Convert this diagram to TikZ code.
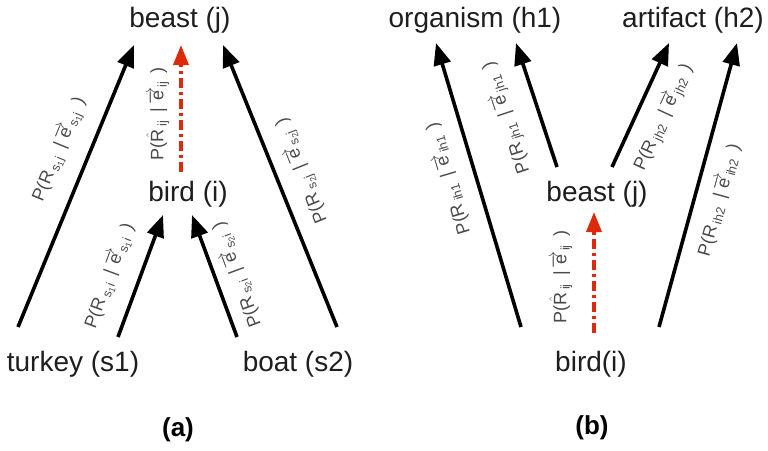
\documentclass[tikz,border=0pt]{standalone}
\usepackage{fontspec}
\setmainfont{Liberation Sans}
\usepackage{tikz}
\usetikzlibrary{arrows.meta}
\definecolor{GuessRed}{HTML}{DD2A0A}
\definecolor{LabelGray}{HTML}{4A4A4A}
\definecolor{WordBlack}{HTML}{1E1E1E}
\newcommand{\vecE}{$\overrightarrow{\mbox{e}}$}
\newcommand{\condP}[1]{P(R\,\textsubscript{#1}\ \,|\,\vecE\textsubscript{#1}\ \,)}
\newcommand{\condPhat}[1]{P($\hat{\mbox{R}}$\,\textsubscript{#1}\ \,|\,\vecE\textsubscript{#1}\ \,)}
\tikzset{
    % Node styles
    word/.style={
        anchor=base,
        inner sep=0pt,
        text=WordBlack,
        font=\fontsize{28}{30}\selectfont
    },
    panelcap/.style={
        anchor=base,
        inner sep=0pt,
        font=\fontsize{26}{28}\selectfont\bfseries
    },
    problabel/.style={
        sloped,
        allow upside down,
        inner sep=0pt,
        text=LabelGray,
        font=\fontsize{18}{20}\selectfont
    },
    % Arrow styles
    relarrow/.style={
        -{Triangle[length=22pt,width=17pt]},
        line width=3.6pt,
        black
    },
    guessarrow/.style={
        -{Triangle[length=20pt,width=15pt]},
        line width=3.6pt,
        GuessRed,
        dash pattern=on 10pt off 4pt on 3pt off 4pt
    }
}
\begin{document}
\begin{tikzpicture}[x=1pt,y=-1pt]
    \useasboundingbox (0,0) rectangle (768,450);

    % Panel (a): words
    \node[word] (beastA) at (180,27) {beast (j)};
    \node[word] (birdA) at (188,201) {bird (i)};
    \node[word] (turkey) at (73,371) {turkey (s1)};
    \node[word] (boat) at (298,371) {boat (s2)};
    \node[panelcap] (capA) at (178,436) {(a)};

    % Panel (a): arrow ends
    \coordinate (turkeyL) at (18,327);
    \coordinate (turkeyR) at (118,337);
    \coordinate (boatL) at (237,337);
    \coordinate (boatR) at (337,327);
    \coordinate (beastAL) at (134,45);
    \coordinate (beastAM) at (181,45);
    \coordinate (beastAR) at (223,45);
    \coordinate (birdAL) at (163,215);
    \coordinate (birdAM) at (181,172);
    \coordinate (birdAR) at (192,215);

    % Panel (a): arrows
    \draw[relarrow] (turkeyL) -- (beastAL)
        node[problabel,pos=0.59,above=17pt] {\condP{s\textsubscript{1}j}};
    \draw[relarrow] (turkeyR) -- (birdAL)
        node[problabel,pos=0.42,above=17pt] {\condP{s\textsubscript{1}i}};
    \draw[relarrow] (boatL) -- (birdAR)
        node[problabel,pos=0.45,below=10pt] {\condP{s\textsubscript{2}i}};
    \draw[relarrow] (boatR) -- (beastAR)
        node[problabel,pos=0.52,below=14pt] {\condP{s\textsubscript{2}j}};
    \draw[guessarrow] (birdAM) -- (beastAM)
        node[problabel,pos=0.46,above=10pt] {\condPhat{ij}};

    % Panel (b): words
    \node[word] (organism) at (475,27) {organism (h1)};
    \node[word] (artifact) at (693,27) {artifact (h2)};
    \node[word] (beastB) at (597,201) {beast (j)};
    \node[word] (birdB) at (591,371) {bird(i)};
    \node[panelcap] (capB) at (592,434) {(b)};

    % Panel (b): arrow ends
    \coordinate (birdBL) at (521,327);
    \coordinate (birdBM) at (594,333);
    \coordinate (birdBR) at (659,327);
    \coordinate (beastBL) at (557,167);
    \coordinate (beastBM) at (594,212);
    \coordinate (beastBR) at (612,167);
    \coordinate (organismL) at (436,43);
    \coordinate (organismR) at (516,43);
    \coordinate (artifactL) at (669,43);
    \coordinate (artifactR) at (737,43);

    % Panel (b): arrows
    \draw[relarrow] (birdBL) -- (organismL)
        node[problabel,pos=0.55,above=16pt] {\condP{ih1}};
    \draw[relarrow] (beastBL) -- (organismR)
        node[problabel,pos=0.48,above=20pt] {\condP{jh1}};
    \draw[relarrow] (beastBR) -- (artifactL)
        node[problabel,pos=0.49,below=14pt] {\condP{jh2}};
    \draw[relarrow] (birdBR) -- (artifactR)
        node[problabel,pos=0.47,below=13pt] {\condP{ih2}};
    \draw[guessarrow] (birdBM) -- (beastBM)
        node[problabel,pos=0.46,above=20pt] {\condPhat{ij}};
\end{tikzpicture}
\end{document}
